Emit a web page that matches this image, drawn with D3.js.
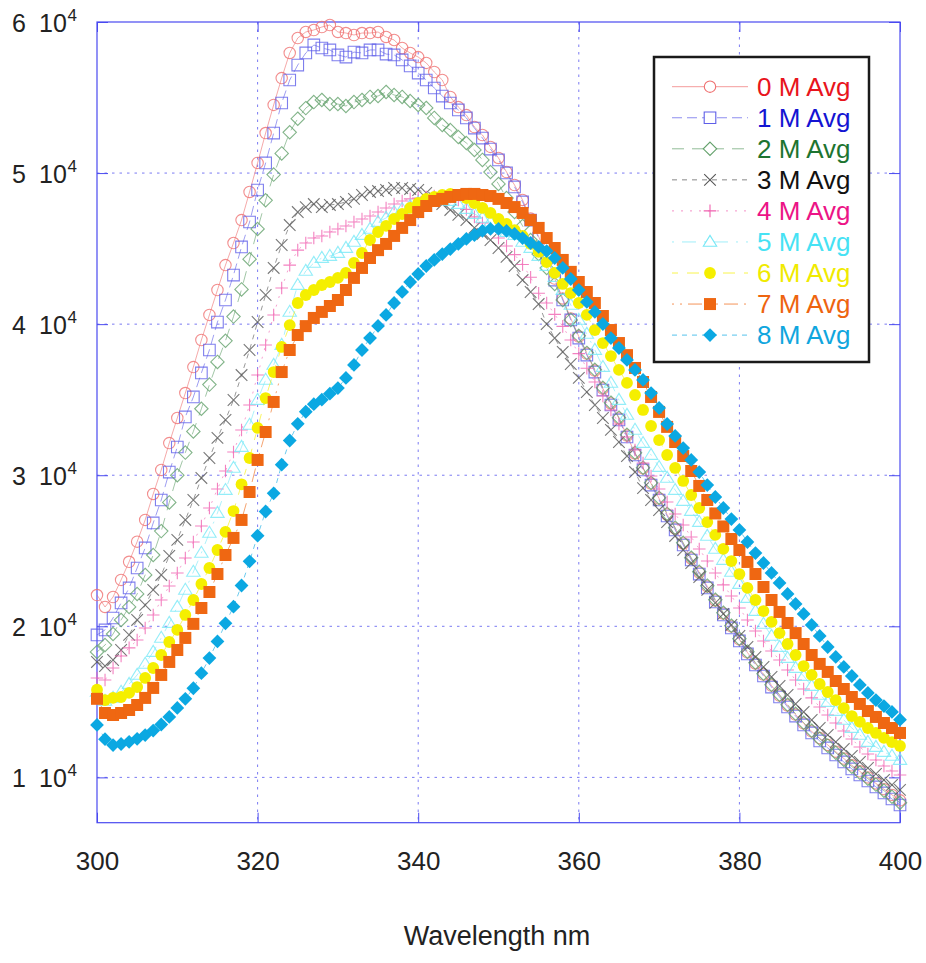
<!DOCTYPE html>
<html><head><meta charset="utf-8">
<script src="https://cdn.jsdelivr.net/npm/d3@7"></script>
<style>
body{margin:0;background:#fff}
text{font-family:"Liberation Sans",Arial,Helvetica,sans-serif}
</style>
</head><body>
<svg id="chart" width="926" height="963"></svg>
<script>
// ---------------- data ----------------
const wavelengths = d3.range(300, 401);   // 1 nm steps, 300..400
const seriesNames = ["0 M Avg","1 M Avg","2 M Avg","3 M Avg","4 M Avg","5 M Avg","6 M Avg","7 M Avg","8 M Avg"];

const avg0M = [22070,21280,21940,23070,24270,25600,27040,28760,30350,32130,
 33790,35440,37160,38950,40610,42260,43910,45370,46890,48750,
 50670,52650,54510,56290,57950,58940,59340,59470,59670,59800,
 59340,59270,59140,59270,59270,59340,59010,58810,58280,57950,
 57680,57290,56690,56160,55040,54370,53840,53050,52520,51730,
 51000,50070,49210,48220,46990,45800,44480,43020,41700,40380,
 39180,38050,36930,35740,34750,33760,32630,31440,30450,29450,
 28460,27400,26480,25480,24490,23560,22640,21710,20850,19990,
 19130,18270,17540,16810,16080,15420,14760,14160,13570,13040,
 12600,12150,11700,11250,10800,10400,10000,9600,9220,8840,8480];

const avg1M = [19430,19760,20550,21550,22540,23860,25190,26840,28360,30210,
 31870,33860,35180,36770,38290,40140,41600,43250,45110,46760,
 48880,50670,52650,54640,56160,57150,57950,58480,58280,58150,
 57820,57680,58010,57950,58150,58150,57880,57820,57490,57090,
 56620,56160,55630,55100,54640,54180,53650,52980,52320,51590,
 50870,50010,49080,48090,46890,45700,44380,42920,41600,40280,
 39080,37950,36830,35640,34650,33660,32530,31340,30350,29350,
 28360,27300,26380,25380,24390,23460,22540,21610,20750,19890,
 19030,18170,17440,16710,15980,15320,14660,14060,13470,12940,
 12410,11950,11480,11020,10560,10160,9760,9370,8970,8570,8170];

const avg2M = [18300,18760,19490,20420,21280,22140,23400,24720,26300,28200,
 30000,31500,32900,34400,36000,37500,38900,40500,42300,44300,
 46300,48200,49900,51300,52700,53600,54300,54700,54840,54570,
 54570,54440,54700,54840,55040,55100,55370,55170,55040,54770,
 54510,54310,53650,53180,52850,52390,51990,51530,50870,50070,
 49280,48350,47420,46500,45570,44640,43720,42660,41600,40280,
 39230,38100,36980,35790,34800,33810,32680,31490,30500,29500,
 28510,27450,26530,25530,24540,23610,22690,21760,20900,20040,
 19180,18320,17590,16860,16130,15470,14810,14210,13620,13090,
 12560,12100,11630,11170,10710,10310,9910,9520,9120,8720,8320];

const avg3M = [17640,17370,17770,18430,19430,20420,21410,22410,23400,24660,
 25720,27040,28360,29820,31140,32470,33660,34980,36630,38290,
 40140,41930,43720,45240,46560,47420,47750,47950,47750,47890,
 47950,48090,48290,48550,48750,48810,48880,49010,49010,48950,
 48880,48680,48350,47950,47560,47230,46890,46370,45970,45570,
 45040,44450,43850,42920,42130,41330,40010,39080,38160,37360,
 36440,35510,34650,33790,33000,32200,31270,30210,29150,28360,
 27700,26900,25980,25050,24190,23260,22410,21550,20820,20090,
 19360,18630,17970,17310,16650,16050,15460,14860,14330,13800,
 13270,12810,12340,11880,11420,11020,10620,10230,9830,9500,9170];

const avg4M = [16580,16450,17240,18030,18570,19090,19890,20750,21740,22670,
 23530,24520,25580,26640,27830,29090,30280,31540,32990,34650,
 36630,38620,40610,42390,43910,44900,45370,45700,45830,46100,
 46300,46500,46760,46960,47160,47420,47690,47950,48150,48290,
 48350,48420,48480,48480,48420,48220,47600,47100,46700,46300,
 45700,45170,44600,43950,43100,42050,41400,40650,39850,38950,
 38050,37080,36170,35240,34320,33390,32530,31670,30810,29950,
 29090,28230,27430,26710,25910,25120,24320,23530,22740,22010,
 21210,20420,19690,19030,18370,17770,17110,16450,15850,15260,
 14660,14130,13600,13070,12540,12010,11550,11150,10750,10420,10160];

const avg5M = [15660,15060,15260,15660,16180,16780,17510,18300,19230,20220,
 21280,22410,23600,24860,26180,27500,29020,30480,31870,33330,
 34980,36310,37300,38620,40810,42590,43520,44050,44380,44510,
 44710,45040,45440,45900,46300,46760,47030,47420,47620,47820,
 48020,48150,48220,48220,48150,47950,47620,47290,47030,46760,
 46430,46100,45900,45440,45040,44510,43850,43120,42260,41270,
 40280,39350,38290,37160,36110,34980,33990,33000,32130,31340,
 30540,29820,29020,28290,27630,26900,25980,25120,24390,23600,
 22800,21870,21010,20160,19360,18630,17900,17240,16710,16050,
 15460,14990,14390,13800,13270,12810,12340,12010,11680,11420,11150];

const avg6M = [15800,15120,15260,15320,15590,15980,16580,17240,18100,18960,
 19760,20750,21740,22800,23860,25050,26250,27630,29400,31140,
 33130,35110,36830,38490,39940,41400,41930,42260,42590,42790,
 43060,43390,44050,44710,45570,46100,46500,46960,47290,47690,
 48020,48290,48420,48550,48620,48550,48350,48020,47690,47360,
 46960,46630,46230,45840,45310,44780,44110,43390,42660,42060,
 41400,40610,39610,38750,37890,36970,36110,35310,34320,33260,
 32330,31340,30480,29620,28690,27830,26900,26050,25120,24320,
 23460,22540,21740,21010,20290,19550,18830,18100,17370,16780,
 16180,15650,15120,14590,14060,13670,13270,12940,12610,12340,12080];

const avg7M = [15200,14260,14130,14260,14460,14790,15260,15920,16780,17640,
 18430,19230,20160,21210,22270,23460,24720,25850,27040,28890,
 31010,32860,34850,36830,38290,39280,39870,40410,40810,41200,
 41600,42260,43060,43720,44380,44900,45310,45840,46370,46890,
 47420,47820,48150,48290,48420,48550,48620,48620,48550,48480,
 48290,48020,47750,47360,46890,46370,45700,45040,44250,43460,
 42790,42130,41400,40540,39610,38750,37950,37100,36170,35180,
 34190,33200,32200,31270,30280,29290,28360,27470,26610,25780,
 25050,24260,23460,22600,21740,20950,20220,19550,18830,18100,
 17510,16980,16380,15850,15320,14860,14390,14000,13600,13270,12940];

const avg8M = [13470,12530,12140,12210,12350,12550,12800,13100,13500,14000,
 14600,15200,15900,16900,17900,19000,20200,21300,22700,24300,
 26000,27600,28800,30700,32300,33400,34200,34700,35000,35400,
 35770,36440,37300,38290,39080,39880,40610,41400,42130,42790,
 43320,43850,44250,44640,44970,45310,45640,45900,46170,46300,
 46300,46170,45970,45700,45370,45110,44840,44380,43720,42990,
 42260,41470,40810,40010,39080,38420,37630,36970,36310,35440,
 34450,33390,32600,31800,31010,30210,29350,28560,27830,27100,
 26380,25580,24850,24190,23530,22870,22140,21480,20820,20090,
 19360,18630,17970,17310,16710,16120,15590,15120,14720,14330,13820];

const seriesValues = [avg0M, avg1M, avg2M, avg3M, avg4M, avg5M, avg6M, avg7M, avg8M];

const xTickValues = [300, 320, 340, 360, 380, 400];
const yTickValues = [10000, 20000, 30000, 40000, 50000, 60000];
const yTickMantissa = ["1", "2", "3", "4", "5", "6"];
const yTickExponent = "4";
const xAxisTitle = "Wavelength nm";

// ---------------- styles ----------------
const textColors  = ["#e8141c","#1414d2","#1d7430","#111111","#ec1486","#46e2f4","#f0ea00","#ee640f","#10a6de"];
const markColors  = ["#ef7070","#5e5ee8","#62a06a","#555555","#f062b0","#78e8f6","#f5ef00","#ef6712","#0ba8e2"];
const markType    = ["circle","square","diamond","x","plus","triangle","circle","square","diamond"];
const markFilled  = [false,false,false,false,false,false,true,true,true];
const dashes      = [null,"10,5","12,8","5,5","2,7","2,8,14,8","6,9,12,9","2,6,2,6,14,6","5,5"];

// ---------------- layout ----------------
const svg = d3.select("#chart");
const X0 = 97, X1 = 900, Y0 = 22, Y1 = 822.7;
const x = d3.scaleLinear().domain([300, 400]).range([X0, X1]);
const y = d3.scaleLinear().domain([7000, 60000]).range([Y1, Y0]);
const frameColor = "#4a4af0", gridColor = "#7a7af2";

// grid
const g = svg.append("g");
g.selectAll(".vg").data(xTickValues.filter(v => v > 300 && v < 400)).join("line")
  .attr("x1", d => x(d)).attr("x2", d => x(d)).attr("y1", Y0).attr("y2", Y1)
  .attr("stroke", gridColor).attr("stroke-width", 1).attr("stroke-dasharray", "2.5,5");
g.selectAll(".hg").data(yTickValues.filter(v => v < 60000)).join("line")
  .attr("x1", X0).attr("x2", X1).attr("y1", d => y(d)).attr("y2", d => y(d))
  .attr("stroke", gridColor).attr("stroke-width", 1).attr("stroke-dasharray", "2.5,5");

// inward ticks via axes
const tickStyle = sel => { sel.select(".domain").remove(); sel.selectAll("line").attr("stroke", frameColor); };
svg.append("g").attr("transform", `translate(0,${Y1})`)
  .call(d3.axisBottom(x).tickValues(xTickValues).tickSize(-10).tickPadding(29).tickFormat(d3.format("d")))
  .call(tickStyle)
  .call(s => s.selectAll("text").attr("fill", "#222").attr("font-size", 26));
svg.append("g").attr("transform", `translate(0,${Y0})`)
  .call(d3.axisTop(x).tickValues(xTickValues).tickSize(-10).tickFormat(""))
  .call(tickStyle);
svg.append("g").attr("transform", `translate(${X0},0)`)
  .call(d3.axisLeft(y).tickValues(yTickValues).tickSize(-11).tickFormat(""))
  .call(tickStyle);
svg.append("g").attr("transform", `translate(${X1},0)`)
  .call(d3.axisRight(y).tickValues(yTickValues).tickSize(-11).tickFormat(""))
  .call(tickStyle);

// y tick labels "n 10^4"
const ylg = svg.append("g").attr("fill", "#222");
yTickValues.forEach((v, i) => {
  const by = y(v) + 10;
  ylg.append("text").attr("x", 12).attr("y", by).attr("font-size", 25).text(yTickMantissa[i]);
  ylg.append("text").attr("x", 39).attr("y", by).attr("font-size", 25).text("10");
  ylg.append("text").attr("x", 67.5).attr("y", by - 11).attr("font-size", 17).text(yTickExponent);
});

// frame
svg.append("rect").attr("x", X0).attr("y", Y0).attr("width", X1 - X0).attr("height", Y1 - Y0)
  .attr("fill", "none").attr("stroke", frameColor).attr("stroke-width", 1.2);

// axis title
svg.append("text").attr("x", 497).attr("y", 945).attr("text-anchor", "middle")
  .attr("font-size", 27).attr("fill", "#222").text(xAxisTitle);

// marker path generator
function markerPath(type, filled) {
  const s = filled ? 6 : 5.8;
  switch (type) {
    case "circle": { const r = filled ? 5.9 : 5.7; return `M${r},0A${r},${r} 0 1,1 ${-r},0A${r},${r} 0 1,1 ${r},0Z`; }
    case "square": return `M${-s},${-s}H${s}V${s}H${-s}Z`;
    case "diamond": { const t = s + 0.9; return `M0,${-t}L${t},0L0,${t}L${-t},0Z`; }
    case "x": return `M${-s},${-s}L${s},${s}M${-s},${s}L${s},${-s}`;
    case "plus": return `M${-s - 0.5},0H${s + 0.5}M0,${-s - 0.5}V${s + 0.5}`;
    case "triangle": return `M0,${-s - 0.8}L${s + 0.9},${s * 0.75}L${-s - 0.9},${s * 0.75}Z`;
  }
}

// series
const plot = svg.append("g");
const line = d3.line().x((d, i) => x(wavelengths[i])).y(d => y(d));
seriesValues.forEach((vals, k) => {
  const sg = plot.append("g");
  sg.append("path").datum(vals).attr("d", line).attr("fill", "none")
    .attr("stroke", markColors[k]).attr("stroke-opacity", 0.6).attr("stroke-width", 1)
    .attr("stroke-dasharray", dashes[k]);
  sg.selectAll("path.m").data(vals).join("path").attr("class", "m")
    .attr("transform", (d, i) => `translate(${x(wavelengths[i])},${y(d)})`)
    .attr("d", markerPath(markType[k], markFilled[k]))
    .attr("fill", markFilled[k] ? markColors[k] : "none")
    .attr("stroke", markFilled[k] ? "none" : markColors[k])
    .attr("stroke-opacity", 0.8)
    .attr("stroke-width", 1.1);
});

// legend
const lg = svg.append("g");
lg.append("rect").attr("x", 654).attr("y", 57).attr("width", 215).attr("height", 305)
  .attr("fill", "#fff").attr("stroke", "#1a1a1a").attr("stroke-width", 2.5);
seriesNames.forEach((name, k) => {
  const cy = 86.7 + k * 31.05;
  lg.append("line").attr("x1", 672).attr("x2", 748).attr("y1", cy).attr("y2", cy)
    .attr("stroke", markColors[k]).attr("stroke-opacity", 0.7).attr("stroke-width", 1)
    .attr("stroke-dasharray", dashes[k]);
  lg.append("path").attr("transform", `translate(710,${cy})`)
    .attr("d", markerPath(markType[k], markFilled[k]))
    .attr("fill", markFilled[k] ? markColors[k] : "#fff")
    .attr("stroke", markFilled[k] ? "none" : markColors[k]).attr("stroke-width", 1.1);
  lg.append("text").attr("x", 757).attr("y", cy + 9).attr("font-size", 26)
    .attr("fill", textColors[k]).text(name);
});
</script>
</body></html>
